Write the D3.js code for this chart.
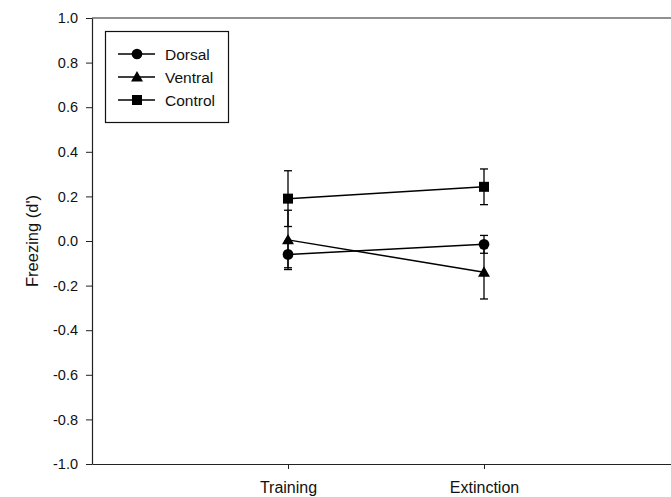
<!DOCTYPE html>
<html><head><meta charset="utf-8">
<script src="https://cdn.jsdelivr.net/npm/d3@7"></script>
<style>body{margin:0;background:#fff}svg{display:block;font-family:"Liberation Sans",Arial,sans-serif}</style>
</head><body><svg id="c" width="671" height="497"></svg>
<script>
const categories = ["Training", "Extinction"];
const seriesNames = ["Dorsal", "Ventral", "Control"];
const dorsalMean = [-0.06, -0.015];
const dorsalSE = [0.06, 0.04];
const ventralMean = [0.005, -0.14];
const ventralSE = [0.133, 0.12];
const controlMean = [0.19, 0.243];
const controlSE = [0.125, 0.08];
const yTicks = [-1.0, -0.8, -0.6, -0.4, -0.2, 0.0, 0.2, 0.4, 0.6, 0.8, 1.0];
const markers = ["circle", "triangle", "square"];

const series = [
  {name: seriesNames[0], mean: dorsalMean, se: dorsalSE, marker: markers[0]},
  {name: seriesNames[1], mean: ventralMean, se: ventralSE, marker: markers[1]},
  {name: seriesNames[2], mean: controlMean, se: controlSE, marker: markers[2]}
];

const svg = d3.select("#c");
const mLeft = 92, mTop = 18, mBottom = 464, rightEnd = 680;
const x = d3.scaleLinear().domain([0, 3]).range([mLeft, rightEnd]);
const y = d3.scaleLinear().domain([-1, 1]).range([mBottom, mTop]);
const fontFam = "Liberation Sans, Arial, sans-serif";

// frame line on top
svg.append("line").attr("x1", mLeft).attr("x2", 671).attr("y1", mTop).attr("y2", mTop).attr("stroke", "#222").attr("stroke-width", 1.2);

const fmt = (d) => d.toFixed(1);
const yAxis = d3.axisLeft(y).tickValues(yTicks).tickFormat(fmt).tickSize(6).tickPadding(8).tickSizeOuter(0);
const gy = svg.append("g").attr("transform", `translate(${mLeft},0)`).call(yAxis);
gy.selectAll("text").attr("font-size", 14.5).attr("fill", "#111").attr("font-family", fontFam);
gy.select(".domain").attr("stroke", "#222").attr("stroke-width", 1.2);
gy.selectAll(".tick line").attr("stroke", "#222");

const xAxis = d3.axisBottom(x).tickValues([1, 2]).tickFormat((d) => categories[d - 1]).tickSize(5).tickPadding(13).tickSizeOuter(0);
const gx = svg.append("g").attr("transform", `translate(0,${mBottom})`).call(xAxis);
gx.selectAll("text").attr("font-size", 16).attr("fill", "#111").attr("font-family", fontFam);
gx.select(".domain").attr("stroke", "#222").attr("stroke-width", 1.2);
gx.selectAll(".tick line").attr("stroke", "#222");

svg.append("text").attr("transform", `translate(38,${y(0)}) rotate(-90)`).attr("text-anchor", "middle")
  .attr("font-size", 16.5).attr("fill", "#111").attr("font-family", fontFam).text("Freezing (d')");

const symbolType = {circle: d3.symbolCircle, triangle: d3.symbolTriangle, square: d3.symbolSquare};
const symbolSize = {circle: 90, triangle: 62, square: 100};

function drawMarker(g, type, cx, cy) {
  g.append("path").attr("d", d3.symbol(symbolType[type], symbolSize[type])())
    .attr("transform", `translate(${cx},${cy + (type === "triangle" ? 1 : 0)})`).attr("fill", "#000");
}

const line = d3.line().x((d, i) => x(i + 1)).y((d) => y(d));
series.forEach((s) => {
  const g = svg.append("g");
  s.mean.forEach((m, i) => {
    const cx = x(i + 1);
    const y1 = y(m + s.se[i]), y2 = y(m - s.se[i]);
    g.append("line").attr("x1", cx).attr("x2", cx).attr("y1", y1).attr("y2", y2).attr("stroke", "#000").attr("stroke-width", 1.3);
    [y1, y2].forEach((yy) => g.append("line").attr("x1", cx - 4).attr("x2", cx + 4).attr("y1", yy).attr("y2", yy).attr("stroke", "#000").attr("stroke-width", 1.3));
  });
  g.append("path").attr("d", line(s.mean)).attr("fill", "none").attr("stroke", "#000").attr("stroke-width", 1.5);
  s.mean.forEach((m, i) => drawMarker(g, s.marker, x(i + 1), y(m)));
});

// legend
const lg = svg.append("g");
lg.append("rect").attr("x", 105.5).attr("y", 31.5).attr("width", 123).attr("height", 91).attr("fill", "#fff").attr("stroke", "#111").attr("stroke-width", 1.2);
series.forEach((s, i) => {
  const yy = 54 + i * 23;
  lg.append("line").attr("x1", 118).attr("x2", 155).attr("y1", yy).attr("y2", yy).attr("stroke", "#000").attr("stroke-width", 1.5);
  drawMarker(lg, s.marker, 137, yy);
  lg.append("text").attr("x", 165).attr("y", yy + 5.5).attr("font-size", 15.5).attr("fill", "#111").attr("font-family", fontFam).text(s.name);
});
</script></body></html>
